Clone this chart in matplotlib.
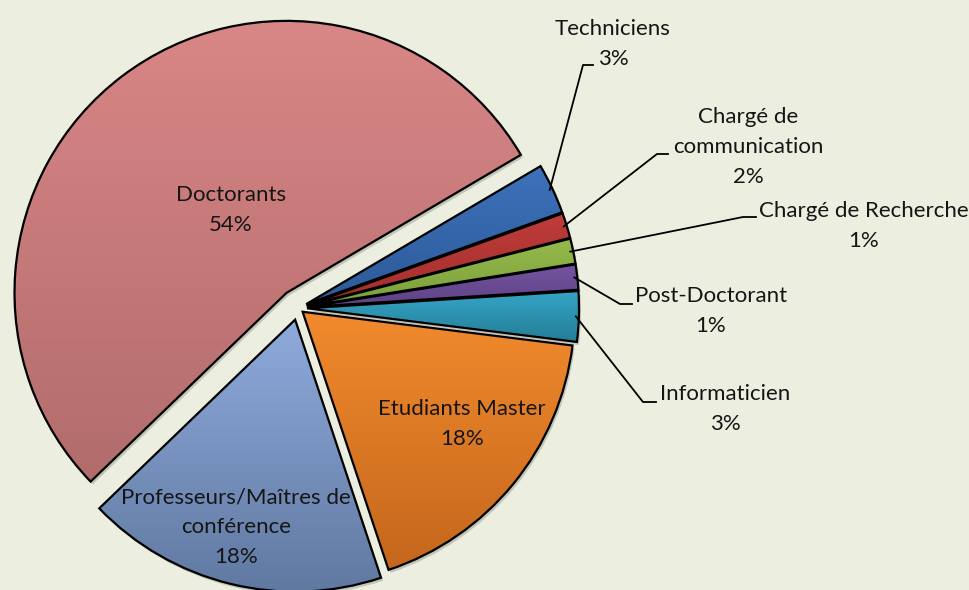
import matplotlib
matplotlib.use("Agg")
import matplotlib.pyplot as plt
import matplotlib.patches as mpatches
import numpy as np

plt.rcParams['font.family'] = ['Lato', 'DejaVu Sans']

# categories, counter-clockwise from the Doctorants slice
categories = ['Doctorants', 'Professeurs/Maîtres de\nconférence', 'Etudiants Master',
              'Informaticien', 'Post-Doctorant', 'Chargé de Recherche',
              'Chargé de\ncommunication', 'Techniciens']
values = [54, 18, 18, 3, 1.5, 1.5, 1.5, 3]
pct_labels = ['54%', '18%', '18%', '3%', '1%', '1%', '2%', '3%']

top_colors = ['#D98686', '#8FABDC', '#F28B2D', '#35A5C6', '#7454A1', '#95BA4C', '#C03C39', '#3D72BB']
bot_colors = ['#B26C6C', '#6079A1', '#C4661C', '#247D95', '#5E4284', '#7C9F3A', '#A22F2C', '#2D5A99']

bg = '#ECEFE0'
fig = plt.figure(figsize=(9.69, 5.90), dpi=100, facecolor=bg)
ax = fig.add_axes([0, 0, 1, 1])
ax.set_facecolor(bg)

center = (298, 282)
radius = 272
explode = [19, 12, 6, 9, 9, 9, 9, 9]

wedges, _ = ax.pie(values, radius=radius, center=center, explode=explode,
                   startangle=30.5, counterclock=True, frame=True,
                   wedgeprops=dict(edgecolor='black', linewidth=1.6, zorder=3))

for w, c1, c2 in zip(wedges, top_colors, bot_colors):
    # soft shadow
    sh = mpatches.Wedge((w.center[0] + 2, w.center[1] - 3), w.r, w.theta1, w.theta2,
                        facecolor='#8f9285', edgecolor='none', alpha=0.45, zorder=1)
    ax.add_patch(sh)
    # vertical gradient clipped to the wedge
    ext = w.get_path().get_extents()
    a = np.array(matplotlib.colors.to_rgb(c1))
    b = np.array(matplotlib.colors.to_rgb(c2))
    t = np.linspace(0, 1, 256)[:, None]
    grad = (a * (1 - t) + b * t)[:, None, :]
    im = ax.imshow(grad, extent=[ext.x0, ext.x1, ext.y0, ext.y1], origin='upper',
                   aspect='auto', zorder=2, interpolation='bilinear')
    im.set_clip_path(w)
    w.set_facecolor('none')

ax.set_xlim(0, 969)
ax.set_ylim(0, 590)
ax.set_aspect('equal')
ax.axis('off')

txt = dict(fontsize=16, color='#151515', ha='center', va='center', linespacing=1.6)

# labels inside the big slices
inside_pos = {0: (231, 380), 1: (236, 63), 2: (462, 166)}
for i, (x, y) in inside_pos.items():
    ax.text(x, y, categories[i] + '\n' + pct_labels[i], zorder=5, **txt)

# outside labels with leader lines: text centre, elbow point, end of horizontal
outside = {
    7: ((613, 546), (583, 525), (593, 525)),
    6: ((748, 443), (657, 436), (668, 436)),
    5: ((864, 364), (743, 373), (756, 373)),
    4: ((711, 279), (620, 286), (632, 286)),
    3: ((725, 181), (643, 188), (656, 188)),
}
for i, (tpos, elbow, end) in outside.items():
    w = wedges[i]
    th = np.deg2rad((w.theta1 + w.theta2) / 2)
    sx = w.center[0] + (w.r - 3) * np.cos(th)
    sy = w.center[1] + (w.r - 3) * np.sin(th)
    ax.plot([sx, elbow[0], end[0]], [sy, elbow[1], end[1]], color='black', lw=1.3, zorder=4)
    ax.text(tpos[0], tpos[1], categories[i] + '\n' + pct_labels[i], zorder=5, **txt)

fig.savefig('out.png', dpi=100, facecolor=bg)
